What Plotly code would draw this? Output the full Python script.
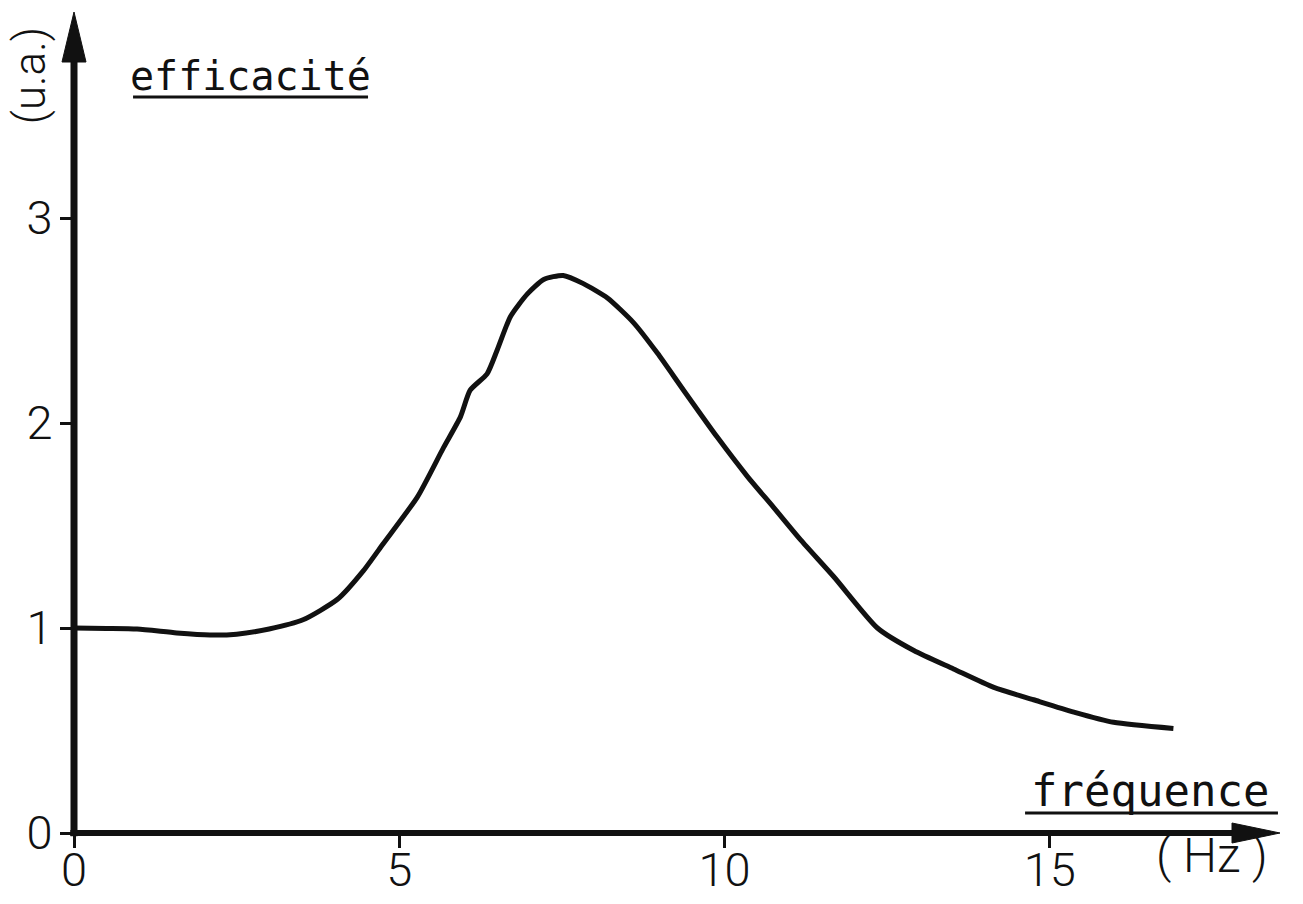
import plotly.graph_objects as go

# Efficacité relative (u.a.) en fonction de la fréquence (Hz)
freq_hz = [0.0, 0.5, 0.97, 1.58, 2.09, 2.5, 3.0, 3.52, 4.05, 4.45, 4.75, 5.28,
           5.68, 5.94, 6.09, 6.35, 6.51, 6.71, 6.97, 7.22, 7.52, 7.83, 8.2,
           8.6, 8.97, 9.37, 9.89, 10.35, 10.75, 11.17, 11.68, 12.35, 12.91,
           13.52, 14.14, 14.75, 15.37, 15.98, 16.9]
efficacite = [1.0, 0.998, 0.995, 0.976, 0.966, 0.97, 0.995, 1.04, 1.14, 1.28,
              1.41, 1.64, 1.88, 2.03, 2.16, 2.24, 2.36, 2.52, 2.63, 2.70, 2.72,
              2.68, 2.61, 2.49, 2.34, 2.16, 1.93, 1.74, 1.59, 1.43, 1.25, 1.00,
              0.89, 0.80, 0.71, 0.65, 0.59, 0.54, 0.51]

x_ticks = [0, 5, 10, 15]
y_ticks = [0, 1, 2, 3]

x_max = 18.6
y_max = 4.005

NUM_FONT = "Roboto"
WORD_FONT = "DejaVu Sans Mono"
INK = "#111111"

fig = go.Figure()
fig.add_trace(go.Scatter(
    x=freq_hz, y=efficacite, mode="lines",
    line=dict(color=INK, width=5, shape="spline", smoothing=0.6),
    hoverinfo="skip", showlegend=False,
))

axis_common = dict(
    showgrid=False, zeroline=False, showline=False, automargin=False,
    ticks="outside", tickwidth=3, tickcolor=INK,
    tickfont=dict(family=NUM_FONT, size=47, color=INK, weight=300),
)

fig.update_xaxes(range=[0, x_max], tickvals=x_ticks, ticklen=14,
                 ticklabelstandoff=-18, **axis_common)
fig.update_yaxes(range=[0, y_max], tickvals=y_ticks, ticklen=13,
                 ticklabelstandoff=-2, **axis_common)

# Axes : traits épais terminés par une flèche effilée
fig.add_shape(type="line", xref="paper", yref="paper",
              x0=0, x1=0, y0=-0.004, y1=0.96,
              line=dict(color=INK, width=7))
fig.add_shape(type="path", xref="paper", yref="paper",
              xsizemode="pixel", ysizemode="pixel", xanchor=0, yanchor=1.0,
              path="M0,0 L-12,-50 L12,-50 Z",
              fillcolor=INK, line=dict(color=INK, width=1))

fig.add_shape(type="line", xref="paper", yref="paper",
              x0=-0.003, x1=0.975, y0=0, y1=0,
              line=dict(color=INK, width=6))
fig.add_shape(type="path", xref="paper", yref="paper",
              xsizemode="pixel", ysizemode="pixel", xanchor=0.9967, yanchor=0,
              path="M0,0 L-48,-10 L-48,10 Z",
              fillcolor=INK, line=dict(color=INK, width=1))

word_font = dict(family=WORD_FONT, size=40, color=INK)

# Titres des axes (soulignés)
fig.add_annotation(x=0.1455, y=0.922, xref="paper", yref="paper",
                   text="efficacité", showarrow=False,
                   xanchor="center", yanchor="middle", font=word_font)
fig.add_shape(type="line", x0=0.0488, x1=0.243, y0=0.8965, y1=0.8965,
              xref="paper", yref="paper", line=dict(color=INK, width=3))

fig.add_annotation(x=-0.0364, y=0.923, xref="paper", yref="paper",
                   text="(u.a.)", showarrow=False, textangle=-90,
                   xanchor="center", yanchor="middle",
                   font=dict(family=NUM_FONT, size=44, color=INK, weight=300))

fig.add_annotation(x=0.889, y=0.0512, xref="paper", yref="paper",
                   text="fréquence", showarrow=False,
                   xanchor="center", yanchor="middle",
                   font=dict(family=WORD_FONT, size=44, color=INK))
fig.add_shape(type="line", x0=0.786, x1=0.995, y0=0.0244, y1=0.0244,
              xref="paper", yref="paper", line=dict(color=INK, width=3))

fig.add_annotation(x=0.9405, y=-0.0268, xref="paper", yref="paper",
                   text="( Hz )", showarrow=False,
                   xanchor="center", yanchor="middle",
                   font=dict(family=NUM_FONT, size=48, color=INK, weight=300))

fig.update_layout(
    width=1303, height=904,
    margin=dict(l=74, r=19, t=12, b=71),
    paper_bgcolor="white", plot_bgcolor="white",
)

fig.write_html("out.html")
